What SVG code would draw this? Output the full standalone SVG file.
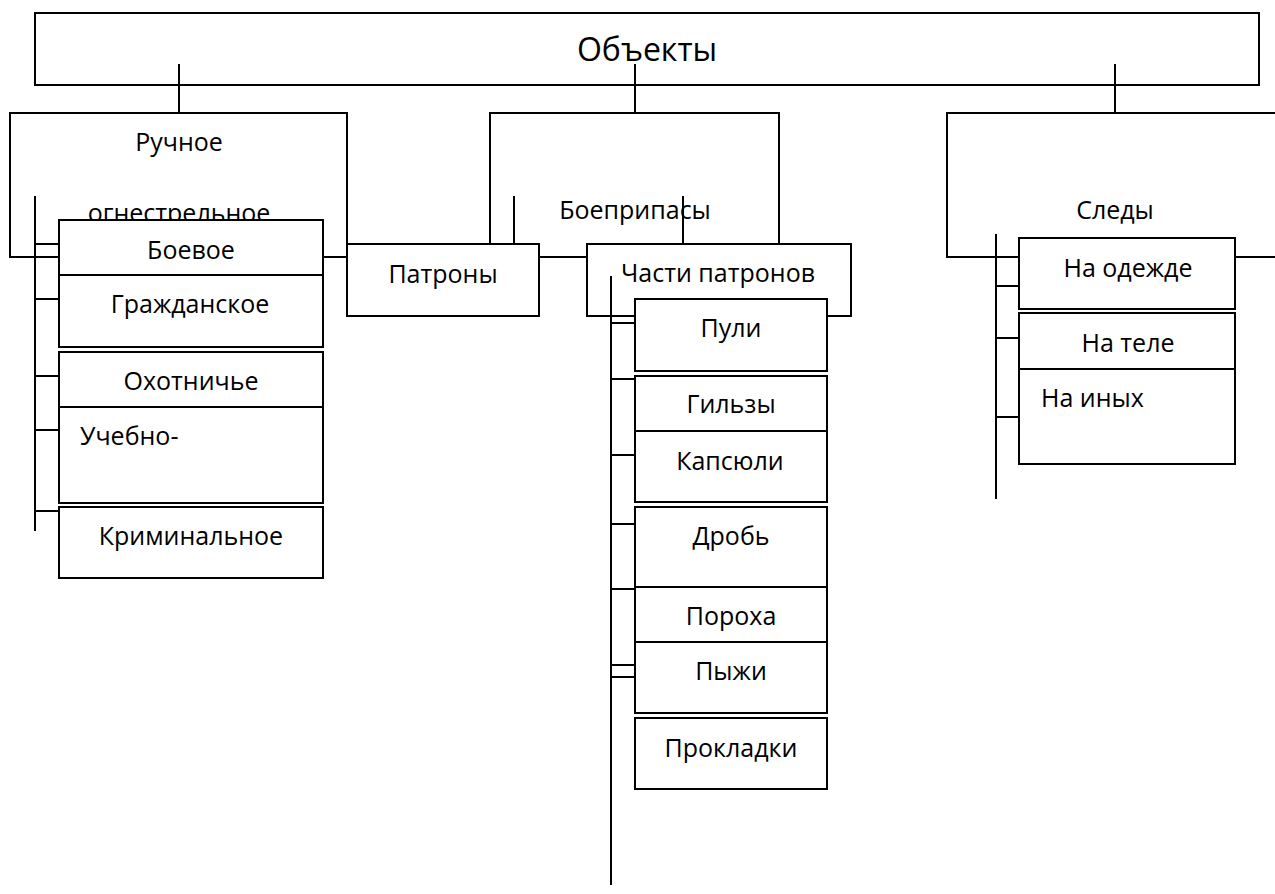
<svg xmlns="http://www.w3.org/2000/svg" width="1275" height="894" viewBox="0 0 1275 894">
<style>
rect{fill:#fff;stroke:#000;stroke-width:2}
text{font-family:"Open Sans","Noto Sans","DejaVu Sans",sans-serif;font-size:25px;fill:#000;text-anchor:middle}
.l{text-anchor:start}
#connectors line{stroke:#000;stroke-width:2}
</style>
<rect x="0" y="0" width="1275" height="894" style="stroke:none"/>
<g id="n-objects"><rect x="35" y="13" width="1224" height="72"/><text x="647" y="61" style="font-size:32px">Объекты</text></g>
<g id="n-ruchnoe"><rect x="10" y="113" width="337" height="144"/><text x="179" y="151">Ручное</text><text x="179" y="222">огнестрельное</text></g>
<g id="n-boepripasy"><rect x="490" y="113" width="289" height="144"/><text x="635" y="219">Боеприпасы</text></g>
<g id="n-sledy"><rect x="947" y="113" width="340" height="144"/><text x="1115" y="219">Следы</text></g>
<g id="n-boevoe"><rect x="59" y="220" width="264" height="55"/><text x="191" y="259">Боевое</text></g>
<g id="n-grazhd"><rect x="59" y="275" width="264" height="72"/><text x="190" y="313">Гражданское</text></g>
<g id="n-ohot"><rect x="59" y="352" width="264" height="55"/><text x="191" y="390">Охотничье</text></g>
<g id="n-ucheb"><rect x="59" y="407" width="264" height="96"/><text class="l" x="80" y="445">Учебно-</text></g>
<g id="n-krim"><rect x="59" y="507" width="264" height="71"/><text x="191" y="545">Криминальное</text></g>
<g id="n-patrony"><rect x="347" y="244" width="192" height="72"/><text x="443" y="283">Патроны</text></g>
<g id="n-chasti"><rect x="587" y="244" width="264" height="72"/><text x="718" y="282">Части патронов</text></g>
<g id="n-puli"><rect x="635" y="299" width="192" height="72"/><text x="731" y="337">Пули</text></g>
<g id="n-gilzy"><rect x="635" y="376" width="192" height="55"/><text x="731" y="413">Гильзы</text></g>
<g id="n-kapsuli"><rect x="635" y="431" width="192" height="71"/><text x="730" y="470">Капсюли</text></g>
<g id="n-drob"><rect x="635" y="507" width="192" height="80"/><text x="731" y="545">Дробь</text></g>
<g id="n-poroha"><rect x="635" y="587" width="192" height="55"/><text x="731" y="625">Пороха</text></g>
<g id="n-pyzhi"><rect x="635" y="642" width="192" height="71"/><text x="731" y="680">Пыжи</text></g>
<g id="n-prokladki"><rect x="635" y="718" width="192" height="71"/><text x="731" y="757">Прокладки</text></g>
<g id="n-odezhda"><rect x="1019" y="238" width="216" height="71"/><text x="1128" y="277">На одежде</text></g>
<g id="n-tele"><rect x="1019" y="313" width="216" height="56"/><text x="1128" y="352">На теле</text></g>
<g id="n-inyh"><rect x="1019" y="369" width="216" height="95"/><text class="l" x="1041" y="407">На иных</text></g>
<g id="connectors">
<line x1="179" y1="64" x2="179" y2="113"/>
<line x1="635" y1="64" x2="635" y2="113"/>
<line x1="1115" y1="64" x2="1115" y2="113"/>
<line x1="35" y1="196" x2="35" y2="531"/>
<line x1="35" y1="244" x2="59" y2="244"/>
<line x1="35" y1="299" x2="59" y2="299"/>
<line x1="35" y1="376" x2="59" y2="376"/>
<line x1="35" y1="430" x2="59" y2="430"/>
<line x1="35" y1="511" x2="59" y2="511"/>
<line x1="514" y1="196" x2="514" y2="244"/>
<line x1="683" y1="196" x2="683" y2="244"/>
<line x1="611" y1="276" x2="611" y2="885"/>
<line x1="611" y1="323" x2="635" y2="323"/>
<line x1="611" y1="379" x2="635" y2="379"/>
<line x1="611" y1="455" x2="635" y2="455"/>
<line x1="611" y1="524" x2="635" y2="524"/>
<line x1="611" y1="589" x2="635" y2="589"/>
<line x1="611" y1="665" x2="635" y2="665"/>
<line x1="611" y1="677" x2="635" y2="677"/>
<line x1="996" y1="234" x2="996" y2="499"/>
<line x1="996" y1="286" x2="1019" y2="286"/>
<line x1="996" y1="338" x2="1019" y2="338"/>
<line x1="996" y1="417" x2="1019" y2="417"/>
</g>
</svg>
